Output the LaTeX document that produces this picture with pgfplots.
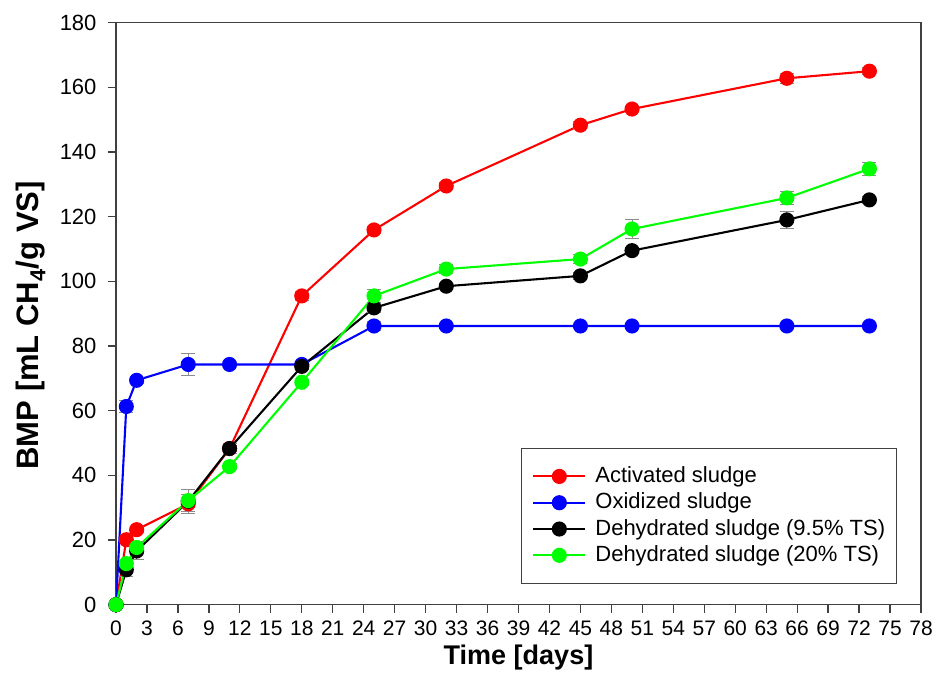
\documentclass[border=0pt]{standalone}
\usepackage{pgfplots}
\pgfplotsset{compat=1.18}
\usepackage{fontspec}
\setmainfont{Liberation Sans}

\pgfplotstableread{
x y e
0 0 0
1 20.1 0.8
2 23.2 1.0
7 31.2 3.0
11 48.3 1.0
18 95.5 1.5
25 115.9 1.0
32 129.5 1.0
45 148.3 1.0
50 153.3 0.6
65 162.8 1.5
73 165.0 1.0
}\redtab
\pgfplotstableread{
x y e
0 0 0
1 61.3 2.0
2 69.4 1.0
7 74.3 3.5
11 74.3 0
18 74.3 1.0
25 86.2 1.5
32 86.2 0
45 86.2 0
50 86.2 0
65 86.2 0
73 86.2 0
}\bluetab
\pgfplotstableread{
x y e
0 0 0
1 10.8 2.0
2 16.6 2.5
7 32.0 2.0
11 48.3 1.5
18 73.7 1.0
25 91.8 1.5
32 98.5 0.8
45 101.7 1.0
50 109.5 1.0
65 119.0 2.5
73 125.2 1.0
}\blacktab
\pgfplotstableread{
x y e
0 0 0
1 12.7 1.0
2 17.7 2.0
7 32.2 3.5
11 42.7 1.0
18 68.8 1.0
25 95.5 2.0
32 103.8 1.5
45 106.9 1.5
50 116.2 3.0
65 125.8 2.0
73 134.8 2.0
}\greentab

\begin{document}
\begin{tikzpicture}
\pgfplotsset{
  ser/.style={line width=2.1pt, mark=*, mark size=6.5pt, mark options={solid},
    error bars/.cd, y dir=both, y explicit,
    error bar style={line width=1pt, black!45},
    error mark options={rotate=90, mark size=7pt, line width=1pt, black!45}},
}
\begin{axis}[
  scale only axis, width=805pt, height=582pt,
  xmin=0, xmax=78, ymin=0, ymax=180,
  xtick={0,3,...,78}, ytick={0,20,...,180},
  tick pos=left, tick align=outside,
  major tick length=8pt,
  axis line style={line width=1.3pt, black!75},
  every tick/.style={line width=1.3pt, black!75},
  /pgf/number format/assume math mode=true,
  xticklabel style={font=\fontsize{21}{25}\selectfont, inner xsep=0pt, yshift=-5pt},
  yticklabel style={font=\fontsize{22}{26}\selectfont, xshift=-8pt},
  xlabel={Time [days]},
  ylabel={BMP [mL CH\textsubscript{4}/g VS]},
  xlabel style={font=\fontsize{27}{30}\selectfont\bfseries,
    at={(axis description cs:0.5,0)}, anchor=base, yshift=-60pt},
  ylabel style={font=\fontsize{31}{34}\selectfont\bfseries,
    at={(axis description cs:-0.0957,0.48)}, anchor=base},
  legend style={at={(axis description cs:0.970,0.0356)}, anchor=south east,
    draw=black!75, line width=1.3pt, font=\fontsize{22}{26}\selectfont,
    inner xsep=11pt, inner ysep=17pt, row sep=4.3pt, column sep=9pt,
    nodes={inner sep=0pt, text height=17pt, text depth=5pt}},
  legend cell align=left,
  legend image code/.code={
    \draw[#1, mark repeat=2, mark phase=2] plot coordinates {(0pt,0pt) (26pt,0pt) (52pt,0pt)};},
]
\addplot[red, ser] table[x=x, y=y, y error=e] {\redtab};
\addlegendentry{Activated sludge}
\addplot[blue, ser] table[x=x, y=y, y error=e] {\bluetab};
\addlegendentry{Oxidized sludge}
\addplot[black, ser] table[x=x, y=y, y error=e] {\blacktab};
\addlegendentry{Dehydrated sludge (9.5\% TS)}
\addplot[green, ser] table[x=x, y=y, y error=e] {\greentab};
\addlegendentry{Dehydrated sludge (20\% TS)}
\end{axis}
\pgfresetboundingbox
\useasboundingbox ([xshift=-116pt,yshift=-88.3pt]current axis.south west) rectangle ([xshift=19pt,yshift=22.7pt]current axis.north east);
\end{tikzpicture}
\end{document}
